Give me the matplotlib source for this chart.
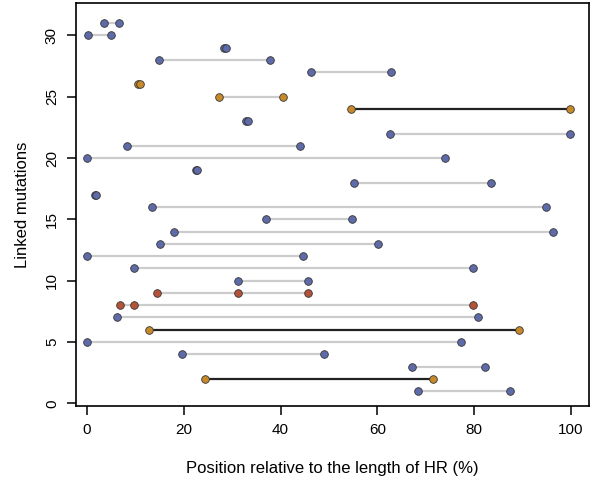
import matplotlib
matplotlib.use("Agg")
import matplotlib.pyplot as plt

plt.rcParams['font.family'] = ['Liberation Sans', 'DejaVu Sans']

# one row per linked-mutation group, positions in % of HR length
rows = list(range(1, 32))
positions = [
    [68.4, 87.3],        # 1
    [24.4, 71.5],        # 2
    [67.1, 82.2],        # 3
    [19.7, 48.9],        # 4
    [0.0, 77.2],         # 5
    [12.8, 89.2],        # 6
    [6.3, 80.7],         # 7
    [6.9, 9.7, 79.8],    # 8
    [14.5, 31.2, 45.6],  # 9
    [31.2, 45.6],        # 10
    [9.7, 79.8],         # 11
    [0.0, 44.7],         # 12
    [15.0, 60.1],        # 13
    [17.9, 96.3],        # 14
    [36.9, 54.7],        # 15
    [13.4, 94.8],        # 16
    [1.6, 1.9],          # 17
    [55.2, 83.5],        # 18
    [22.5, 22.8],        # 19
    [0.1, 74.0],         # 20
    [8.2, 44.0],         # 21
    [62.7, 99.7],        # 22
    [32.8, 33.3],        # 23
    [54.6, 99.8],        # 24
    [27.2, 40.4],        # 25
    [10.5, 10.9],        # 26
    [46.2, 62.8],        # 27
    [14.9, 37.9],        # 28
    [28.4, 28.8],        # 29
    [0.3, 5.0],          # 30
    [3.5, 6.6],          # 31
]
groups = ['blue', 'orange', 'blue', 'blue', 'blue', 'orange', 'blue', 'red', 'red', 'blue',
          'blue', 'blue', 'blue', 'blue', 'blue', 'blue', 'blue', 'blue', 'blue', 'blue',
          'blue', 'blue', 'blue', 'orange', 'orange', 'orange', 'blue', 'blue', 'blue', 'blue',
          'blue']
black_rows = [2, 6, 24]

dot_colors = {'blue': '#5f6ba8', 'orange': '#c8892b', 'red': '#b5523a'}

fig = plt.figure(figsize=(5.9, 4.82), dpi=100)
ax = fig.add_axes([0.1293, 0.1577, 0.8690, 0.8367])

for r, pos, g in zip(rows, positions, groups):
    lc = '#222222' if r in black_rows else '#cccccc'
    ax.plot([min(pos), max(pos)], [r, r], color=lc, lw=1.6, zorder=1, solid_capstyle='butt')
    ax.plot(pos, [r] * len(pos), 'o', ms=5.5, mfc=dot_colors[g], mec='#333333', mew=0.6,
            zorder=2)

ax.set_xlim(-2.2, 103.7)
ax.set_ylim(-0.22, 32.67)
ax.set_xticks([0, 20, 40, 60, 80, 100])
ax.set_yticks([0, 5, 10, 15, 20, 25, 30])
ax.set_yticklabels(['0', '5', '10', '15', '20', '25', '30'], rotation=90, va='center')
ax.tick_params(direction='out', length=6.5, width=1.1, labelsize=11, pad=6)
for s in ax.spines.values():
    s.set_linewidth(1.2)

ax.set_xlabel('Position relative to the length of HR (%)', fontsize=12, labelpad=17)
ax.set_ylabel('Linked mutations', fontsize=12, labelpad=11)

fig.savefig('out.png', dpi=100)
